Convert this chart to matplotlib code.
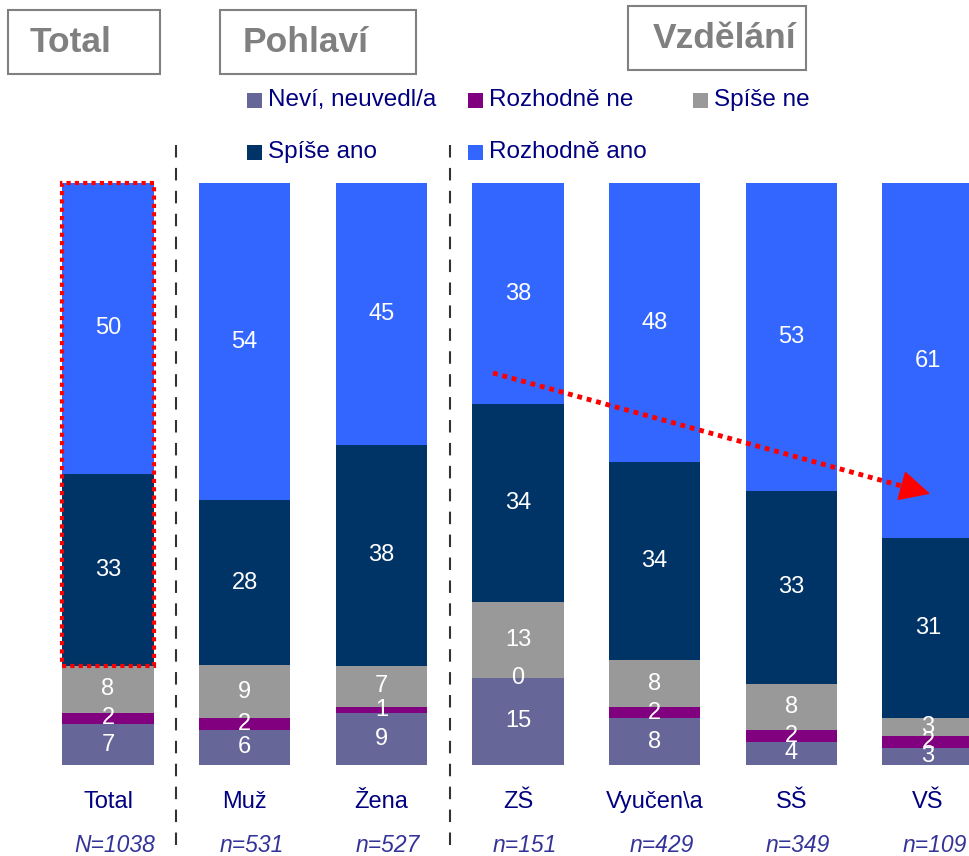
import matplotlib.pyplot as plt
import numpy as np
from matplotlib.patches import Rectangle

plt.rcParams['font.family'] = ['Liberation Sans', 'DejaVu Sans']

# data
kategorie = ['Total', 'Muž', 'Žena', 'ZŠ', 'Vyučen\\a', 'SŠ', 'VŠ']
pocty = ['N=1038', 'n=531', 'n=527', 'n=151', 'n=429', 'n=349', 'n=109']
serie = ['Neví, neuvedl/a', 'Rozhodně ne', 'Spíše ne', 'Spíše ano', 'Rozhodně ano']
nevi = [7, 6, 9, 15, 8, 4, 3]
rozhodne_ne = [2, 2, 1, 0, 2, 2, 2]
spise_ne = [8, 9, 7, 13, 8, 8, 3]
spise_ano = [33, 28, 38, 34, 34, 33, 31]
rozhodne_ano = [50, 54, 45, 38, 48, 53, 61]
barvy = ['#666699', '#800080', '#999999', '#003366', '#3366FF']

hodnoty = np.array([nevi, rozhodne_ne, spise_ne, spise_ano, rozhodne_ano], dtype=float)
soucty = hodnoty.sum(axis=0)
procenta = hodnoty / soucty * 100

fig = plt.figure(figsize=(9.69, 8.56), dpi=100)
ax = fig.add_axes([0, 91/856, 1, 582/856])
x = np.arange(len(kategorie))
sirka = 0.67

spodek = np.zeros(len(kategorie))
for i in range(len(serie)):
    ax.bar(x, procenta[i], sirka, bottom=spodek, color=barvy[i], label=serie[i])
    for j in range(len(kategorie)):
        ax.text(x[j], spodek[j] + procenta[i][j] / 2, '%d' % hodnoty[i][j],
                ha='center', va='center', color='white', fontsize=17)
    spodek += procenta[i]

ax.set_xlim(-108/136.67, (969-108)/136.67)
ax.set_ylim(0, 100)
ax.axis('off')

# popisky kategorii
for j in range(len(kategorie)):
    ax.text(x[j], -6.3, kategorie[j], ha='center', va='center', color='#000080', fontsize=17)
    ax.text(x[j] + 0.05, -13.8, pocty[j], ha='center', va='center', color='#333399',
            fontsize=16.5, style='italic')

# oddelovace
for xs in [0.5, 2.5]:
    ax.plot([xs, xs], [-13.7, 106.5], color='#333333', lw=1.5, ls=(0, (6, 5)), clip_on=False)

# cerveny ramecek kolem Total
ram_dole = procenta[0][0] + procenta[1][0] + procenta[2][0]
ax.add_patch(Rectangle((-sirka/2, ram_dole), sirka, 100 - ram_dole, fill=False,
                       ec='red', lw=3, ls=(0, (1, 1)), clip_on=False))

# sipka - teckovana cara + plna hlava
x0, y0, x1, y1 = 2.817, 67.35, 6.015, 46.6
ax.plot([x0, x1 - 0.12], [y0, y0 + (y1 - y0) * (x1 - 0.12 - x0) / (x1 - x0)],
        color='red', lw=3.5, ls=(0, (1, 1)))
ax.annotate('', xy=(x1, y1), xytext=(x1 - 0.2, y0 + (y1 - y0) * (x1 - 0.2 - x0) / (x1 - x0)),
            arrowprops=dict(arrowstyle='-|>,head_length=0.8,head_width=0.4', color='red',
                            lw=1, mutation_scale=25, shrinkA=0, shrinkB=0))

# nadpisy v ramecku
nadpisy = [('Total', 8, 10, 152, 64, 71), ('Pohlaví', 220, 10, 196, 64, 306),
           ('Vzdělání', 628, 6, 178, 64, 725)]
for t, px, py, w, h, tx in nadpisy:
    fig.patches.append(Rectangle((px/969, 1 - (py+h)/856), w/969, h/856, fill=False,
                                 ec='#808080', lw=1.5, transform=fig.transFigure))
    fig.text(tx/969, 1 - (py + h/2 + 1)/856, t, ha='center', va='center',
             color='#808080', fontsize=25.5, fontweight='bold')

# legenda
leg_pos = [(247, 100), (468, 100), (693, 100), (247, 152), (468, 152)]
for i, (lx, ly) in enumerate(leg_pos):
    fig.patches.append(Rectangle(((lx)/969, 1 - (ly+8)/856), 15/969, 15/856,
                                 fc=barvy[i], ec='none', transform=fig.transFigure))
    fig.text((lx + 21)/969, 1 - ly/856, serie[i], ha='left', va='center',
             color='#000080', fontsize=17.5)

fig.savefig('out.png', dpi=100)
